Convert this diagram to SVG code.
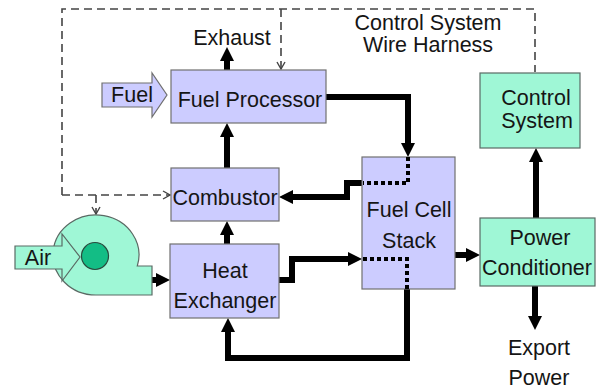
<svg xmlns="http://www.w3.org/2000/svg" width="599" height="390" viewBox="0 0 599 390">
<style>
text{font-family:"Liberation Sans",Arial,sans-serif;font-size:21.5px;fill:#151515;text-anchor:middle}
.box{fill:#ccccff;stroke:#707070;stroke-width:1.2}
.aqua{fill:#9ff7d6;stroke:#5a6a64;stroke-width:1.2}
.thick{fill:none;stroke:#000;stroke-width:6;stroke-linejoin:miter}
.dot{fill:none;stroke:#000;stroke-width:4;stroke-dasharray:4 3}
.dash{fill:none;stroke:#444;stroke-width:1.6;stroke-dasharray:8 5}
</style>
<defs>
<marker id="ah" markerUnits="userSpaceOnUse" viewBox="0 0 14 14" markerWidth="14" markerHeight="14" refX="1" refY="7" orient="auto">
<path d="M0,0 L14,7 L0,14 Z" fill="#000"/>
</marker>
<marker id="oa" markerUnits="userSpaceOnUse" viewBox="0 0 10 10" markerWidth="10" markerHeight="10" refX="9" refY="5" orient="auto">
<path d="M2,1 L9,5 L2,9" fill="none" stroke="#444" stroke-width="1.4"/>
</marker>
</defs>
<g id="connectors">
<path class="dash" d="M62 195 L62 9 L535 9 L535 72"/>
<path class="dash" d="M62 195 L170 195" marker-end="url(#oa)"/>
<path class="dash" d="M96 195 L96 214" marker-end="url(#oa)"/>
<path class="dash" d="M281 9 L281 69" marker-end="url(#oa)"/>
<path class="thick" d="M227 70 L227 60" marker-end="url(#ah)"/>
<path class="thick" d="M227 168 L227 136" marker-end="url(#ah)"/>
<path class="thick" d="M227 244 L227 234" marker-end="url(#ah)"/>
<path class="thick" d="M326 97 L408 97 L408 144" marker-end="url(#ah)"/>
<path class="thick" d="M362 183 L347 183 L347 197 L292 197" marker-end="url(#ah)"/>
<path class="thick" d="M279 280 L292 280 L292 259 L349 259" marker-end="url(#ah)"/>
<path class="thick" d="M407 289 L407 358 L228 358 L228 331" marker-end="url(#ah)"/>
<path class="thick" d="M455 255 L467 255" marker-end="url(#ah)"/>
<path class="thick" d="M536 218 L536 161" marker-end="url(#ah)"/>
<path class="thick" d="M535 286 L535 317" marker-end="url(#ah)"/>
<path class="thick" d="M152 280 L157 280" marker-end="url(#ah)"/>
</g>
<g id="fuel-processor">
<rect class="box" x="171" y="70" width="155" height="53"/>
<text x="250" y="107">Fuel Processor</text>
</g>
<g id="combustor">
<rect class="box" x="171" y="168" width="108" height="53"/>
<text x="225" y="205">Combustor</text>
</g>
<g id="heat-exchanger">
<rect class="box" x="170" y="244" width="109" height="74"/>
<text x="225" y="278">Heat</text>
<text x="225" y="308">Exchanger</text>
</g>
<g id="fuel-cell-stack">
<rect class="box" x="362" y="157" width="93" height="132"/>
<path class="dot" d="M408 157 L408 183 L363 183"/>
<path class="dot" d="M363 259 L407 259 L407 289"/>
<text x="409" y="217">Fuel Cell</text>
<text x="409" y="248">Stack</text>
</g>
<g id="control-system">
<rect class="aqua" x="480" y="73" width="100" height="75"/>
<text x="536" y="105">Control</text>
<text x="537" y="128">System</text>
</g>
<g id="power-conditioner">
<rect class="aqua" x="480" y="218" width="115" height="68"/>
<text x="540" y="245">Power</text>
<text x="537" y="275">Conditioner</text>
</g>
<g id="fuel-input">
<path class="box" d="M102 83 L152 83 L152 73 L167 95 L152 117 L152 107 L102 107 Z"/>
<text x="132" y="102">Fuel</text>
</g>
<g id="blower">
<path class="aqua" d="M96 295 L152 295 L152 266 L137.3 266 A43 40 0 1 0 96 295 Z"/>
<path class="aqua" d="M15 246 L62 246 L62 234 L80 257 L62 281 L62 269 L15 269 Z"/>
<circle cx="95" cy="256" r="13.5" fill="#13bd85" stroke="#2a4a3e" stroke-width="1.2"/>
<text x="38" y="265">Air</text>
</g>
<g id="labels">
<text x="232" y="45">Exhaust</text>
<text x="428" y="30">Control System</text>
<text x="428" y="52">Wire Harness</text>
<text x="539" y="355">Export</text>
<text x="539" y="385">Power</text>
</g>
</svg>
